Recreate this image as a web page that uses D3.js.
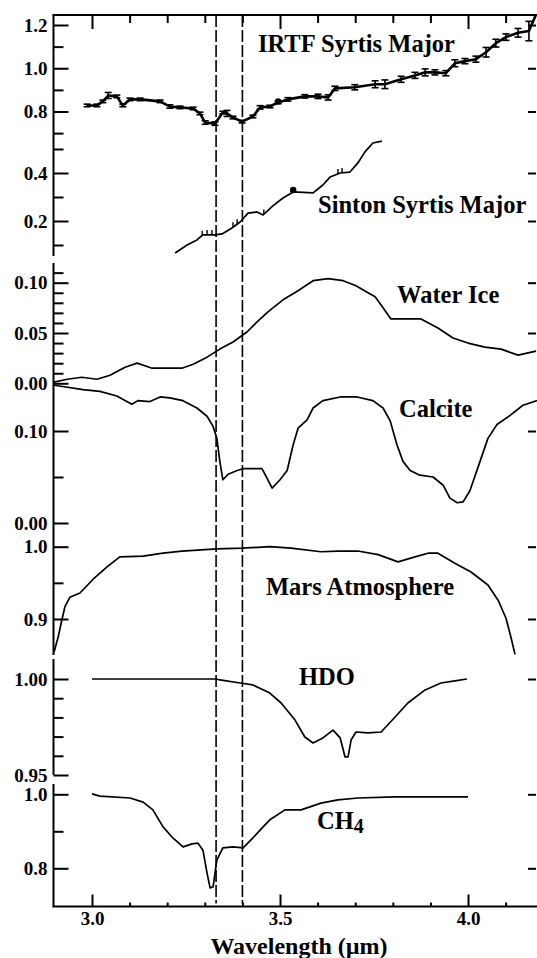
<!DOCTYPE html>
<html>
<head>
<meta charset="utf-8">
<script src="https://cdn.jsdelivr.net/npm/d3@7"></script>
<style>
  body { margin: 0; background: #fff; }
  svg { display: block; }
  svg text { font-family: "Liberation Serif", "Times New Roman", Times, "DejaVu Serif", serif; font-weight: bold; }
</style>
</head>
<body>
<div id="chart"></div>
<script>
// spectra (wavelength in micron, value per panel)
const irtfWave = [2.987, 3.013, 3.029, 3.043, 3.066, 3.082, 3.101, 3.128, 3.181, 3.207, 3.234, 3.269, 3.287, 3.301, 3.327, 3.348, 3.359, 3.375, 3.399, 3.428, 3.447, 3.473, 3.495, 3.521, 3.566, 3.601, 3.628, 3.646, 3.699, 3.753, 3.779, 3.822, 3.859, 3.886, 3.912, 3.941, 3.965, 3.992, 4.021, 4.048, 4.074, 4.101, 4.133, 4.162, 4.180];
const irtfRefl = [0.828, 0.828, 0.847, 0.874, 0.870, 0.828, 0.856, 0.856, 0.847, 0.823, 0.819, 0.814, 0.791, 0.749, 0.744, 0.795, 0.791, 0.772, 0.753, 0.777, 0.819, 0.823, 0.842, 0.856, 0.870, 0.870, 0.865, 0.907, 0.912, 0.926, 0.926, 0.949, 0.967, 0.981, 0.981, 0.977, 1.023, 1.033, 1.042, 1.074, 1.116, 1.144, 1.164, 1.172, 1.245];
const irtfErr  = [0.006, 0.006, 0.006, 0.014, 0.006, 0.006, 0.006, 0.006, 0.006, 0.008, 0.006, 0.006, 0.006, 0.008, 0.008, 0.006, 0.014, 0.006, 0.006, 0.006, 0.008, 0.006, 0.006, 0.008, 0.008, 0.010, 0.012, 0.010, 0.012, 0.016, 0.020, 0.014, 0.014, 0.016, 0.012, 0.012, 0.016, 0.012, 0.014, 0.022, 0.018, 0.015, 0.020, 0.045, 0];
const irtfDots = [3.495];

const sintonWave = [3.221, 3.253, 3.279, 3.295, 3.327, 3.346, 3.372, 3.394, 3.415, 3.439, 3.455, 3.481, 3.508, 3.535, 3.588, 3.614, 3.633, 3.660, 3.686, 3.707, 3.726, 3.747, 3.771];
const sintonRefl = [0.067, 0.100, 0.121, 0.142, 0.142, 0.146, 0.171, 0.196, 0.233, 0.238, 0.225, 0.263, 0.296, 0.321, 0.317, 0.350, 0.383, 0.400, 0.404, 0.442, 0.488, 0.525, 0.533];
const sintonTickWave = [3.293, 3.306, 3.319, 3.375, 3.386, 3.457, 3.654, 3.665];
const sintonTickLen = 0.02;
const sintonDots = [3.535];

const iceWave = [2.896, 2.934, 2.973, 3.013, 3.048, 3.088, 3.120, 3.160, 3.239, 3.269, 3.306, 3.340, 3.375, 3.412, 3.439, 3.468, 3.508, 3.548, 3.588, 3.628, 3.668, 3.702, 3.734, 3.753, 3.774, 3.795, 3.875, 3.920, 3.960, 4.000, 4.045, 4.088, 4.133, 4.181];
const iceVal  = [0.001, 0.004, 0.006, 0.004, 0.008, 0.016, 0.020, 0.015, 0.015, 0.019, 0.026, 0.034, 0.041, 0.051, 0.061, 0.071, 0.083, 0.092, 0.102, 0.104, 0.102, 0.097, 0.090, 0.086, 0.075, 0.064, 0.064, 0.055, 0.045, 0.040, 0.036, 0.034, 0.028, 0.032];

const calciteWave = [2.896, 2.976, 3.021, 3.066, 3.106, 3.122, 3.154, 3.181, 3.207, 3.242, 3.279, 3.306, 3.322, 3.332, 3.340, 3.348, 3.362, 3.386, 3.402, 3.452, 3.465, 3.479, 3.500, 3.519, 3.535, 3.548, 3.572, 3.588, 3.614, 3.660, 3.705, 3.747, 3.774, 3.793, 3.811, 3.827, 3.846, 3.872, 3.907, 3.934, 3.952, 3.971, 3.987, 4.005, 4.032, 4.053, 4.077, 4.112, 4.146, 4.184];
const calciteVal  = [0.150, 0.145, 0.143, 0.138, 0.129, 0.133, 0.132, 0.137, 0.136, 0.133, 0.125, 0.116, 0.105, 0.092, 0.067, 0.047, 0.053, 0.057, 0.059, 0.059, 0.049, 0.038, 0.047, 0.057, 0.085, 0.103, 0.112, 0.125, 0.133, 0.137, 0.137, 0.133, 0.125, 0.111, 0.085, 0.067, 0.057, 0.052, 0.050, 0.041, 0.027, 0.022, 0.023, 0.035, 0.067, 0.092, 0.107, 0.117, 0.128, 0.133];

const marsWave = [2.899, 2.910, 2.920, 2.928, 2.941, 2.968, 3.003, 3.040, 3.074, 3.136, 3.189, 3.239, 3.332, 3.399, 3.473, 3.529, 3.609, 3.654, 3.707, 3.761, 3.814, 3.859, 3.894, 3.920, 3.965, 4.008, 4.053, 4.080, 4.101, 4.114, 4.125];
const marsVal  = [0.854, 0.875, 0.899, 0.917, 0.930, 0.936, 0.955, 0.972, 0.986, 0.987, 0.991, 0.994, 0.997, 0.998, 1.000, 0.998, 0.993, 0.994, 0.994, 0.989, 0.979, 0.986, 0.991, 0.991, 0.977, 0.965, 0.947, 0.926, 0.901, 0.875, 0.851];

const hdoWave = [3.000, 3.330, 3.340, 3.394, 3.428, 3.473, 3.503, 3.540, 3.566, 3.588, 3.614, 3.641, 3.660, 3.673, 3.681, 3.689, 3.702, 3.734, 3.769, 3.806, 3.840, 3.886, 3.928, 3.965, 3.997];
const hdoVal  = [1.0000, 1.0000, 0.9995, 0.9979, 0.9969, 0.9927, 0.9875, 0.9786, 0.9698, 0.9667, 0.9693, 0.9734, 0.9693, 0.9594, 0.9594, 0.9682, 0.9724, 0.9719, 0.9724, 0.9802, 0.9875, 0.9943, 0.9979, 0.9990, 1.0000];

const ch4Wave = [3.000, 3.021, 3.101, 3.136, 3.162, 3.189, 3.215, 3.242, 3.266, 3.282, 3.295, 3.306, 3.314, 3.322, 3.332, 3.348, 3.375, 3.402, 3.428, 3.455, 3.473, 3.513, 3.556, 3.609, 3.654, 3.707, 3.806, 4.000];
const ch4Val  = [1.001, 0.995, 0.990, 0.979, 0.958, 0.912, 0.882, 0.858, 0.866, 0.868, 0.849, 0.787, 0.747, 0.750, 0.822, 0.855, 0.858, 0.855, 0.882, 0.912, 0.931, 0.958, 0.958, 0.976, 0.985, 0.990, 0.993, 0.993];

// marked wavelengths (dashed verticals)
const markLines = [3.33, 3.40];

// x ticks
const xMajor = [3.0, 3.5, 4.0];
const xMinor = [3.1, 3.2, 3.3, 3.4, 3.6, 3.7, 3.8, 3.9, 4.1];

const W = 537, H = 958;
const plotLeft = 53.5, plotRight = 536, plotTop = 15, plotBottom = 906.5;
const serif = '"Liberation Serif", "Times New Roman", Times, "DejaVu Serif", serif';

const svg = d3.select('#chart').append('svg').attr('width', W).attr('height', H);

const x = d3.scaleLinear().domain([2.9, 4.18]).range([54.4, 535.7]);

// panels: own y scale each, stacked
const panels = [
  { name: 'irtf', dom: [0.8, 1.2], rng: [111.5, 25], major: [0.8, 1.0, 1.2], minor: [0.7, 0.9, 1.1], rightT: [0.8, 1.0, 1.2], fmt: '.1f' },
  { name: 'sinton', dom: [0.2, 0.4], rng: [221, 173], major: [0.2, 0.4], minor: [0.1, 0.3, 0.5], rightT: [0.2, 0.4], fmt: '.1f' },
  { name: 'ice', dom: [0, 0.1], rng: [383.3, 282.7], major: [0, 0.05, 0.1], minor: [0.01, 0.02, 0.03, 0.04, 0.06, 0.07, 0.08, 0.09, 0.11], rightT: [0.05, 0.1], fmt: '.2f' },
  { name: 'calcite', dom: [0, 0.1], rng: [523, 431], major: [0, 0.1], minor: [0.05], rightT: [0.1], fmt: '.2f' },
  { name: 'mars', dom: [0.9, 1.0], rng: [619, 546.7], major: [0.9, 1.0], minor: [0.95], rightT: [0.9, 1.0], fmt: '.1f' },
  { name: 'hdo', dom: [0.95, 1.0], rng: [775, 679], major: [0.95, 1.0], minor: [0.96, 0.97, 0.98, 0.99], rightT: [1.0], fmt: '.2f' },
  { name: 'ch4', dom: [0.8, 1.0], rng: [868.3, 794.3], major: [0.8, 1.0], minor: [0.9], rightT: [0.8, 1.0], fmt: '.1f' }
];
panels.forEach(p => { p.y = d3.scaleLinear().domain(p.dom).range(p.rng); });
const P = Object.fromEntries(panels.map(p => [p.name, p]));

// left axis line segments
const leftSegs = [[plotTop, 256], [263, 655], [659, 775], [784, plotBottom]];
svg.selectAll('line.lseg').data(leftSegs).enter().append('line')
  .attr('x1', plotLeft).attr('x2', plotLeft)
  .attr('y1', d => d[0]).attr('y2', d => d[1])
  .attr('stroke', '#000').attr('stroke-width', 2);

// top and bottom lines
svg.append('line').attr('x1', plotLeft - 1).attr('x2', plotRight + 1).attr('y1', plotTop).attr('y2', plotTop)
  .attr('stroke', '#000').attr('stroke-width', 2);
svg.append('line').attr('x1', plotLeft - 1).attr('x2', plotRight + 1).attr('y1', plotBottom).attr('y2', plotBottom)
  .attr('stroke', '#000').attr('stroke-width', 2);

function styleAxis(g) {
  g.attr('font-family', null);
  g.select('.domain').remove();
  g.selectAll('.tick line').attr('stroke', '#000').attr('stroke-width', 2);
  g.selectAll('.tick text').attr('fill', '#000')
    .attr('font-family', serif).attr('font-weight', 'bold').attr('font-size', 19);
}

// y axes per panel
panels.forEach(p => {
  svg.append('g').attr('transform', `translate(${plotLeft},0)`)
    .call(d3.axisLeft(p.y).tickValues(p.major).tickSize(-15).tickPadding(6).tickFormat(d3.format(p.fmt)))
    .call(styleAxis);
  svg.append('g').attr('transform', `translate(${plotLeft},0)`)
    .call(d3.axisLeft(p.y).tickValues(p.minor).tickSize(-10).tickFormat(''))
    .call(styleAxis);
  svg.append('g').attr('transform', `translate(${plotRight},0)`)
    .call(d3.axisRight(p.y).tickValues(p.rightT).tickSize(-8).tickFormat(''))
    .call(styleAxis);
});

// x axes: ticks inward on top and bottom
svg.append('g').attr('transform', `translate(0,${plotTop})`)
  .call(d3.axisBottom(x).tickValues(xMajor).tickSize(14).tickFormat(''))
  .call(styleAxis);
svg.append('g').attr('transform', `translate(0,${plotTop})`)
  .call(d3.axisBottom(x).tickValues(xMinor).tickSize(8).tickFormat(''))
  .call(styleAxis);
svg.append('g').attr('transform', `translate(0,${plotBottom})`)
  .call(d3.axisBottom(x).tickValues(xMajor).tickSize(-12).tickPadding(5).tickFormat(d3.format('.1f')))
  .call(styleAxis);
svg.append('g').attr('transform', `translate(0,${plotBottom})`)
  .call(d3.axisBottom(x).tickValues(xMinor).tickSize(-4).tickFormat(''))
  .call(styleAxis);

svg.append('text').attr('x', 299).attr('y', 953.5).attr('text-anchor', 'middle')
  .attr('font-family', serif).attr('font-weight', 'bold').attr('font-size', 24)
  .text('Wavelength (\u00b5m)');

// dashed marker lines
svg.selectAll('line.mark').data(markLines).enter().append('line')
  .attr('x1', d => x(d)).attr('x2', d => x(d))
  .attr('y1', plotTop).attr('y2', plotBottom - 3)
  .attr('stroke', '#000').attr('stroke-width', 1.6).attr('stroke-dasharray', '12,3');

// spectra
function drawLine(wave, vals, p, width) {
  const pts = wave.map((w, i) => [w, vals[i]]);
  svg.append('path').datum(pts)
    .attr('fill', 'none').attr('stroke', '#000').attr('stroke-width', width)
    .attr('stroke-linejoin', 'round')
    .attr('d', d3.line().x(d => x(d[0])).y(d => p.y(d[1])));
}

drawLine(irtfWave, irtfRefl, P.irtf, 2.6);
drawLine(sintonWave, sintonRefl, P.sinton, 1.7);
drawLine(iceWave, iceVal, P.ice, 1.7);
drawLine(calciteWave, calciteVal, P.calcite, 1.7);
drawLine(marsWave, marsVal, P.mars, 1.7);
drawLine(hdoWave, hdoVal, P.hdo, 1.7);
drawLine(ch4Wave, ch4Val, P.ch4, 1.7);

// IRTF error bars
const irtfPts = irtfWave.map((w, i) => ({ w: w, v: irtfRefl[i], e: irtfErr[i] })).filter(d => d.e > 0);
const eb = svg.append('g').attr('stroke', '#000').attr('stroke-width', 1.6);
eb.selectAll('line.bar').data(irtfPts).enter().append('line')
  .attr('x1', d => x(d.w)).attr('x2', d => x(d.w))
  .attr('y1', d => P.irtf.y(d.v - d.e)).attr('y2', d => P.irtf.y(d.v + d.e));
eb.selectAll('line.capt').data(irtfPts).enter().append('line')
  .attr('x1', d => x(d.w) - 3.5).attr('x2', d => x(d.w) + 3.5)
  .attr('y1', d => P.irtf.y(d.v + d.e)).attr('y2', d => P.irtf.y(d.v + d.e));
eb.selectAll('line.capb').data(irtfPts).enter().append('line')
  .attr('x1', d => x(d.w) - 3.5).attr('x2', d => x(d.w) + 3.5)
  .attr('y1', d => P.irtf.y(d.v - d.e)).attr('y2', d => P.irtf.y(d.v - d.e));

// Sinton small error ticks
const interp = (wave, vals, w) => {
  const i = Math.max(1, Math.min(wave.length - 1, d3.bisectLeft(wave, w)));
  const t = (w - wave[i - 1]) / (wave[i] - wave[i - 1]);
  return vals[i - 1] + t * (vals[i] - vals[i - 1]);
};
svg.append('g').selectAll('line').data(sintonTickWave).enter().append('line')
  .attr('x1', d => x(d)).attr('x2', d => x(d))
  .attr('y1', d => P.sinton.y(interp(sintonWave, sintonRefl, d)))
  .attr('y2', d => P.sinton.y(interp(sintonWave, sintonRefl, d) + sintonTickLen))
  .attr('stroke', '#000').attr('stroke-width', 1.4);

// dots
svg.selectAll('circle.irtf').data(irtfDots).enter().append('circle')
  .attr('cx', d => x(d)).attr('cy', d => P.irtf.y(interp(irtfWave, irtfRefl, d)) - 1).attr('r', 3.2);
svg.selectAll('circle.sinton').data(sintonDots).enter().append('circle')
  .attr('cx', d => x(d)).attr('cy', d => P.sinton.y(interp(sintonWave, sintonRefl, d)) - 2).attr('r', 3.2);

// panel labels
const labels = [
  { t: 'IRTF Syrtis Major', x: 258, y: 52 },
  { t: 'Sinton Syrtis Major', x: 318, y: 213 },
  { t: 'Water Ice', x: 397, y: 303 },
  { t: 'Calcite', x: 399, y: 417 },
  { t: 'Mars Atmosphere', x: 266, y: 595 },
  { t: 'HDO', x: 299, y: 685 }
];
svg.selectAll('text.lab').data(labels).enter().append('text')
  .attr('x', d => d.x).attr('y', d => d.y)
  .attr('font-family', serif).attr('font-weight', 'bold').attr('font-size', 24.5)
  .text(d => d.t);

const ch4 = svg.append('text').attr('x', 317).attr('y', 829)
  .attr('font-family', serif).attr('font-weight', 'bold').attr('font-size', 24.5);
ch4.append('tspan').text('CH');
ch4.append('tspan').attr('dy', 4).attr('font-size', 20).text('4');
</script>
</body>
</html>
